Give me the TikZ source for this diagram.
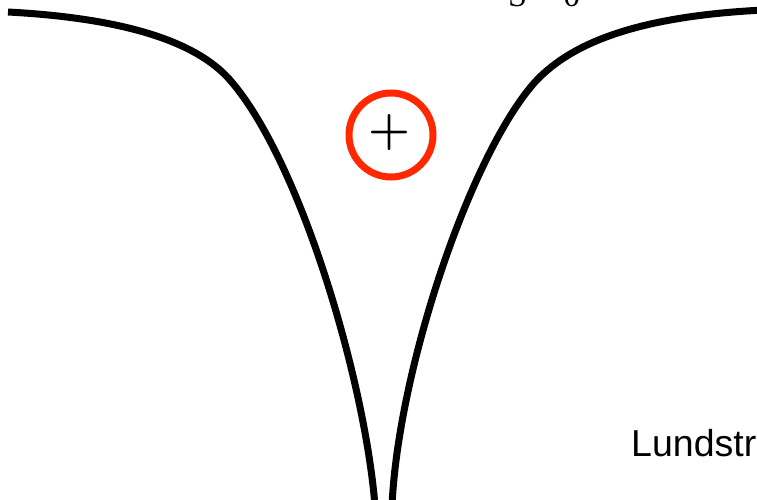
\documentclass[tikz,border=0pt]{standalone}
\usepackage{fontspec}
\newfontfamily\sansf{Liberation Sans}
\newfontfamily\seriff{Liberation Serif}
\newfontfamily\lmf{Latin Modern Roman}
\definecolor{ringred}{RGB}{255,40,0}
\begin{document}
\begin{tikzpicture}[x=1pt,y=-1pt,
  curve/.style={line width=7pt,black,line join=round},
  ring/.style={circle,draw=ringred,line width=7pt,minimum size=84pt,inner sep=0pt}]
\useasboundingbox (0,0) rectangle (757,500);
\clip (0,0) rectangle (757,500);
\draw[curve] (8,12) .. controls (120,18) and (195,40) .. (230,80)
  .. controls (300,160) and (365,380) .. (375,506);
\draw[curve] (764,10) .. controls (640,16) and (572,42) .. (535,82)
  .. controls (470,155) and (398,370) .. (392,506);
\node[ring] (c) at (391,135) {};
\node[inner sep=0pt,font=\lmf\bfseries\fontsize{48}{56}\selectfont] (p) at (389,133) {+};
\node[anchor=base west,inner sep=0pt,font=\seriff\fontsize{34}{40}\selectfont] (s) at (508,7) {S = 0};
\node[anchor=base west,inner sep=0pt,font=\sansf\fontsize{37.5}{44}\selectfont] (l) at (631,456) {Lundström};
\end{tikzpicture}
\end{document}
